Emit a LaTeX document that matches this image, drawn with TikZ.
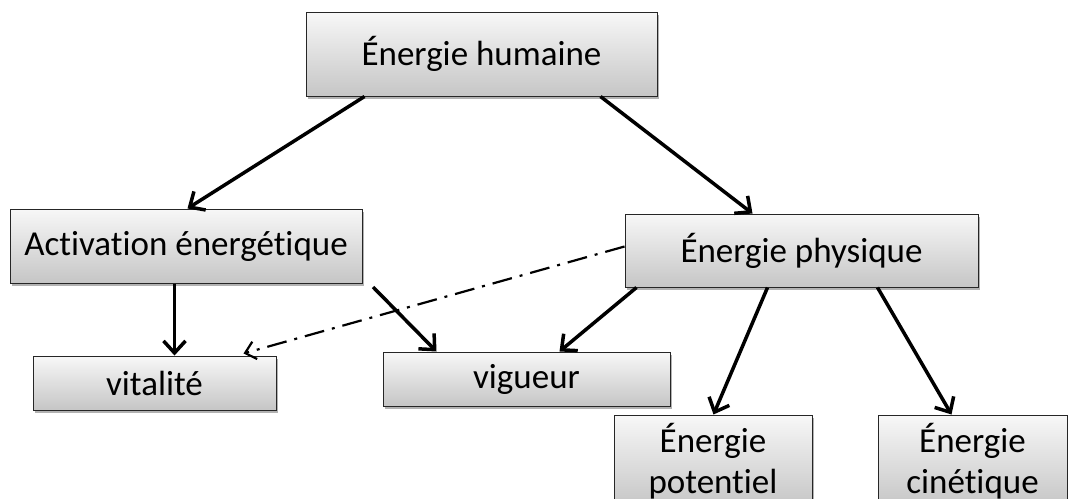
\documentclass[tikz,border=0pt]{standalone}
\usepackage{fontspec}
\setmainfont[RawFeature={-liga;-clig;-dlig}]{Carlito}
\usetikzlibrary{arrows.meta,shadows}
\tikzset{
  box/.style={draw=black!85, line width=1pt, rectangle, inner sep=0pt,
    top color=gray!6, bottom color=gray!45, align=center,
    font=\fontsize{35}{41}\selectfont,
    drop shadow={shadow xshift=2pt, shadow yshift=-3pt, opacity=0.3, fill=black}},
  arr/.style={line width=3.5pt, -{Straight Barb[length=12pt, width=22pt, line width=3.5pt]}},
  dasharr/.style={line width=2.2pt, dash pattern=on 20pt off 8pt on 3pt off 8pt,
    -{Straight Barb[length=10pt, width=18pt, line width=2.2pt]}}
}
\begin{document}
\begin{tikzpicture}[x=1pt, y=-1pt]
\useasboundingbox (0,0) rectangle (1068,498);
% boxes
\node[box, minimum width=351pt, minimum height=84pt] (hum) at (481.5,54) {Énergie humaine};
\node[box, minimum width=352pt, minimum height=74pt] (act) at (186,246) {Activation énergétique};
\node[box, minimum width=353pt, minimum height=73pt] (phys) at (801.5,250.5) {Énergie physique};
\node[box, minimum width=243pt, minimum height=54pt] (vit) at (154.5,383) {vitalité};
\node[box, minimum width=287pt, minimum height=54pt] (vig) at (526.5,379) {vigueur};
\node[box, minimum width=198pt, minimum height=92pt] (pot) at (713,461) {Énergie\\potentiel};
\node[box, minimum width=189pt, minimum height=92pt] (cin) at (972.5,461) {Énergie\\cinétique};
\coordinate (actout) at (373,287);
% connectors
\draw[arr] ([xshift=59pt]hum.south west) -- ([xshift=178pt]act.north west);
\draw[arr] ([xshift=-57pt]hum.south east) -- ([xshift=128pt]phys.north west);
\draw[arr] ([xshift=165pt]act.south west) -- ([xshift=142pt]vit.north west);
\draw[arr] (actout) -- ([xshift=54pt]vig.north west);
\draw[arr] ([xshift=12pt]phys.south west) -- ([xshift=177pt]vig.north west);
\draw[arr] ([xshift=143pt]phys.south west) -- ([xshift=100pt]pot.north west);
\draw[arr] ([xshift=253pt]phys.south west) -- ([xshift=74pt]cin.north west);
\draw[dasharr] ([yshift=4pt]phys.west) -- ([xshift=-33pt,yshift=2pt]vit.north east);
\end{tikzpicture}
\end{document}
